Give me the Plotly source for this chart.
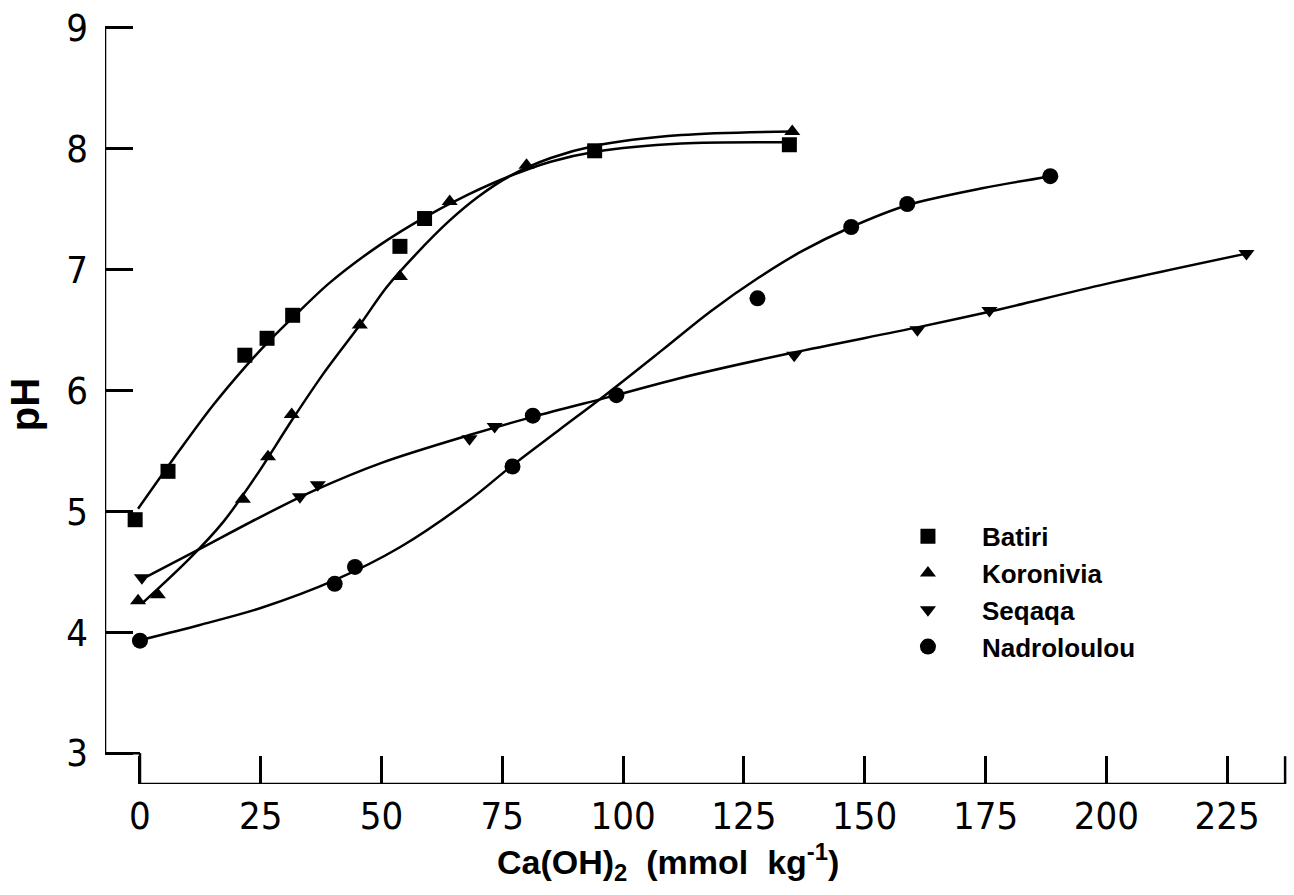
import plotly.graph_objects as go

# ---- data ----
batiri_x = [-1.0, 5.8, 21.7, 26.3, 31.6, 53.8, 58.9, 94.1, 134.4]
batiri_y = [4.93, 5.33, 6.29, 6.43, 6.62, 7.19, 7.42, 7.98, 8.03]
batiri_curve_x = [-0.4, 8.3, 15.0, 21.7, 26.3, 31.6, 39.3, 49.6, 58.9, 68.0, 76.5, 85.0, 94.0, 112.0, 134.0]
batiri_curve_y = [5.02, 5.51, 5.87, 6.19, 6.39, 6.60, 6.89, 7.20, 7.43, 7.62, 7.77, 7.89, 7.97, 8.04, 8.05]

koronivia_x = [-0.4, 3.7, 21.3, 26.5, 31.4, 45.5, 53.8, 64.1, 80.0, 135.0]
koronivia_y = [4.26, 4.31, 5.10, 5.45, 5.80, 6.54, 6.94, 7.56, 7.86, 8.14]
koronivia_curve_x = [0.5, 10.3, 17.2, 24.0, 31.4, 38.0, 45.5, 51.0, 57.0, 64.0, 70.0, 76.5, 85.0, 94.0, 112.0, 135.0]
koronivia_curve_y = [4.24, 4.61, 4.91, 5.29, 5.75, 6.14, 6.54, 6.85, 7.12, 7.40, 7.60, 7.77, 7.92, 8.02, 8.11, 8.14]

seqaqa_x = [0.4, 33.1, 36.8, 68.2, 73.4, 135.4, 160.9, 175.8, 229.0]
seqaqa_y = [4.45, 5.12, 5.22, 5.60, 5.70, 6.29, 6.50, 6.66, 7.13]
seqaqa_curve_x = [1.4, 12.0, 24.8, 36.0, 50.0, 68.2, 81.3, 98.6, 111.7, 135.0, 160.9, 175.8, 200.0, 229.0]
seqaqa_curve_y = [4.46, 4.68, 4.95, 5.17, 5.40, 5.63, 5.78, 5.96, 6.10, 6.31, 6.52, 6.65, 6.88, 7.13]

nadro_x = [0.0, 40.3, 44.5, 77.1, 81.3, 98.6, 127.8, 147.2, 158.8, 188.4]
nadro_y = [3.93, 4.40, 4.54, 5.37, 5.79, 5.96, 6.76, 7.35, 7.54, 7.77]
nadro_curve_x = [0.6, 12.4, 25.0, 40.3, 53.7, 67.8, 77.1, 87.0, 96.6, 108.0, 118.0, 128.0, 137.0, 147.2, 158.8, 174.3, 188.6]
nadro_curve_y = [3.94, 4.06, 4.20, 4.43, 4.70, 5.08, 5.38, 5.68, 5.97, 6.33, 6.65, 6.93, 7.15, 7.35, 7.53, 7.67, 7.77]

x_ticks = [0, 25, 50, 75, 100, 125, 150, 175, 200, 225]
y_ticks = [3, 4, 5, 6, 7, 8, 9]

X_MIN, X_END, X_MAX = -7.24, 237.0, 237.6
Y_MIN, Y_MAX = 2.745, 9.02

# ---- figure ----
fig = go.Figure()
LINE = dict(color="black", width=2.5)

curves = [(batiri_curve_x, batiri_curve_y), (koronivia_curve_x, koronivia_curve_y),
          (seqaqa_curve_x, seqaqa_curve_y), (nadro_curve_x, nadro_curve_y)]
for cx, cy in curves:
    fig.add_trace(go.Scatter(x=cx, y=cy, mode="lines", line=dict(shape="spline", smoothing=0.9, **LINE),
                             showlegend=False, hoverinfo="skip"))

series = [
    ("Batiri", batiri_x, batiri_y, "square", 15),
    ("Koronivia", koronivia_x, koronivia_y, "triangle-up", 14),
    ("Seqaqa", seqaqa_x, seqaqa_y, "triangle-down", 14),
    ("Nadroloulou", nadro_x, nadro_y, "circle", 16),
]
for name, sx, sy, sym, size in series:
    fig.add_trace(go.Scatter(x=sx, y=sy, mode="markers", name=name,
                             marker=dict(symbol=sym, size=size, color="black", line=dict(width=0))))

# axis frame (offset style): y line from 3 to 9, step to x=0, x line to the end
frame = dict(type="line", xref="x", yref="y", line=dict(color="black", width=2.5), layer="above")
fig.add_shape(x0=X_MIN, x1=X_MIN, y0=y_ticks[0], y1=y_ticks[-1], **frame)
fig.add_shape(x0=X_MIN, x1=x_ticks[0], y0=y_ticks[0], y1=y_ticks[0], **frame)
fig.add_shape(x0=x_ticks[0], x1=x_ticks[0], y0=Y_MIN, y1=y_ticks[0], **frame)
fig.add_shape(x0=x_ticks[0], x1=X_END, y0=Y_MIN, y1=Y_MIN, **frame)
# closing end tick of the x axis
fig.add_shape(type="line", xref="x", yref="paper", x0=X_END, x1=X_END, y0=0, y1=28 / 764,
              line=dict(color="black", width=2.5), layer="above")

tick_font = dict(family="Liberation Sans Narrow, DejaVu Sans Condensed, Arial Narrow, sans-serif",
                 size=38, color="black")
bold_font = "Liberation Sans, Arial, Helvetica, sans-serif"

fig.update_layout(
    width=1294, height=895,
    margin=dict(l=105, r=6, t=20, b=111),
    paper_bgcolor="white", plot_bgcolor="white",
    xaxis=dict(range=[X_MIN, X_MAX], tickvals=x_ticks,
               ticks="inside", ticklen=28, tickwidth=2.5, tickcolor="black",
               showline=False, showgrid=False, zeroline=False,
               tickfont=tick_font, ticklabelstandoff=6,
               title=dict(text="Ca(OH)<sub>2</sub>  (mmol  kg<sup>-1</sup>)" + "&nbsp;" * 6,
                          font=dict(family=bold_font, size=34, color="black", weight="bold"),
                          standoff=10)),
    yaxis=dict(range=[Y_MIN, Y_MAX], tickvals=y_ticks,
               ticks="inside", ticklen=28, tickwidth=2.5, tickcolor="black",
               showline=False, showgrid=False, zeroline=False,
               tickfont=tick_font, ticklabelstandoff=16,
               title=dict(text="pH", font=dict(family=bold_font, size=40, color="black", weight="bold"),
                          standoff=14)),
    legend=dict(x=0.650, y=0.3573, xanchor="left", yanchor="top", bgcolor="rgba(0,0,0,0)",
                font=dict(family=bold_font, size=26, color="black", weight="bold"),
                itemwidth=98, tracegroupgap=0),
    showlegend=True,
)

fig.write_html("out.html")
